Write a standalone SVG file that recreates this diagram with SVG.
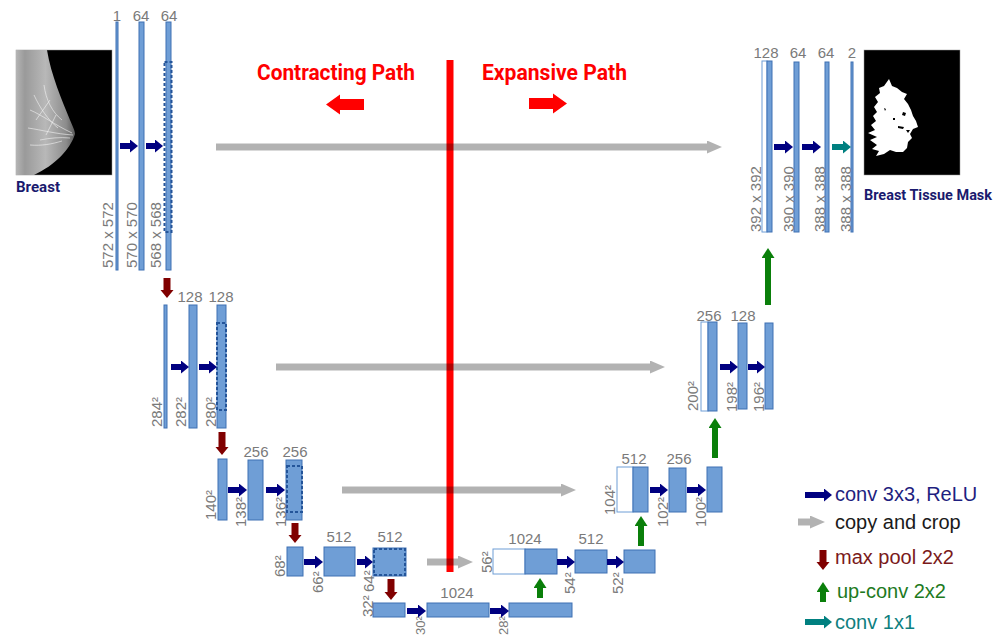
<svg xmlns="http://www.w3.org/2000/svg" width="1003" height="636" viewBox="0 0 1003 636">
<style>
.bar{fill:#6f9ed6;stroke:#3f70b3;stroke-width:1}
.wb{fill:#fff;stroke:#6f9ed6;stroke-width:1}
.dash{fill:none;stroke:#24559a;stroke-width:2;stroke-dasharray:3,2}
.lb{font-family:"Liberation Sans",Arial,sans-serif;font-size:15px;fill:#7a7a7a}
.sm{font-size:13px}
.tc{text-anchor:middle}
.conv{stroke:#000080;stroke-width:6}
.copy{stroke:#000;stroke-opacity:0.3;stroke-width:7}
.pool{stroke:#800000;stroke-width:7}
.up{stroke:#0a7f0a;stroke-width:6}
.c11{stroke:#008080;stroke-width:6}
.lg{font-family:"Liberation Sans",Arial,sans-serif;font-size:20px}
.hd{font-family:Roboto,"Liberation Sans",sans-serif;font-weight:bold;font-size:22px;fill:#f00}
.cap{font-family:Roboto,"Liberation Sans",sans-serif;font-weight:bold;font-size:15px;fill:#1a1a6e}
.fib{fill:none;stroke:#f4f4f4;stroke-width:0.8;opacity:0.75}
</style>
<defs>
<marker id="mConv" markerUnits="userSpaceOnUse" markerWidth="9" markerHeight="14" refX="0" refY="6.5" orient="auto"><path d="M0,0 L8,6.5 L0,13 z" fill="#000080"/></marker>
<marker id="mCopy" markerUnits="userSpaceOnUse" markerWidth="16" markerHeight="14" refX="0" refY="6.5" orient="auto"><path d="M0,0 L15,6.5 L0,13 z" fill="#000" fill-opacity="0.3"/></marker>
<marker id="mPool" markerUnits="userSpaceOnUse" markerWidth="9" markerHeight="14" refX="0" refY="6.5" orient="auto"><path d="M0,0 L8,6.5 L0,13 z" fill="#800000"/></marker>
<marker id="mUp" markerUnits="userSpaceOnUse" markerWidth="11" markerHeight="14" refX="0" refY="6.5" orient="auto"><path d="M0,0 L10,6.5 L0,13 z" fill="#0a7f0a"/></marker>
<marker id="mC11" markerUnits="userSpaceOnUse" markerWidth="9" markerHeight="14" refX="0" refY="6.5" orient="auto"><path d="M0,0 L8,6.5 L0,13 z" fill="#008080"/></marker>
<linearGradient id="gBreast" x1="0" y1="0" x2="1" y2="0">
<stop offset="0" stop-color="#b5b5b5"/><stop offset="0.15" stop-color="#9a9a9a"/><stop offset="0.5" stop-color="#b8b8b8"/><stop offset="0.85" stop-color="#8c8c8c"/><stop offset="1" stop-color="#5a5a5a"/>
</linearGradient>
</defs>

<!-- images -->
<g id="input-image">
<rect x="16" y="50" width="96" height="125" fill="#000" stroke="#999" stroke-width="0.5"/>
<path d="M16,50 L47,50 C51,75 62,100 70,120 C73,127 75,131 75,134 C70,150 55,165 34,175 L16,175 Z" fill="url(#gBreast)"/>
<path class="fib" d="M30,110 C42,115 55,125 72,133 M28,128 C42,130 56,134 73,135 M34,95 C40,108 48,120 58,128 M40,140 C50,138 60,137 70,138 M44,85 C46,100 52,112 62,120 M30,145 C42,146 52,144 62,141 M36,120 L50,100 M46,135 L56,115"/>
<text class="cap" x="16" y="192" textLength="44" lengthAdjust="spacingAndGlyphs">Breast</text>
</g>
<g id="output-mask">
<rect x="864" y="50" width="96" height="125" fill="#000" stroke="#999" stroke-width="0.5"/>
<path d="M889,79 L892,86 L897,88 L902,92 L907,94 L904,99 L908,104 L911,110 L913,116 L916,121 L918,127 L913,129 L910,134 L912,138 L908,142 L907,148 L903,152 L896,152 L890,150 L884,154 L876,156 L879,151 L872,149 L877,145 L870,140 L877,137 L868,133 L875,130 L871,125 L876,121 L873,116 L877,112 L874,107 L878,102 L875,97 L880,93 L879,88 L884,86 Z" fill="#fff"/>
<path d="M903,112 l3,1 l-1,3 l-3,-1 z M893,118 l2,0 l0,2 l-2,0 z M898,126 l6,1 l-1,2 l-5,-1 z M884,108 l2,1 l-1,2 z M906,130 l4,0 l-2,3 z" fill="#000"/>
<text class="cap" x="864" y="200" textLength="128" lengthAdjust="spacingAndGlyphs">Breast Tissue Mask</text>
</g>

<!-- divider and path titles -->
<g id="divider">
<rect x="446.5" y="60" width="7" height="512" fill="#f00"/>
<text class="hd" x="257" y="80" textLength="158" lengthAdjust="spacingAndGlyphs">Contracting Path</text>
<text class="hd" x="482" y="80" textLength="145" lengthAdjust="spacingAndGlyphs">Expansive Path</text>
<path d="M326,104.5 L340,94.5 L340,99 L364,99 L364,110 L340,110 L340,114.5 Z" fill="#f00"/>
<path d="M567,103.5 L553,93.5 L553,98 L529,98 L529,109 L553,109 L553,113.5 Z" fill="#f00"/>
</g>

<!-- level 1 -->
<g id="enc1">
<rect class="bar" x="116" y="22" width="2" height="248"/>
<rect class="bar" x="139" y="22" width="5" height="248"/>
<rect class="bar" x="166" y="22" width="5" height="248"/>
<rect class="dash" x="164.5" y="62" width="7" height="170"/>
<text class="lb tc" x="117" y="21">1</text>
<text class="lb tc" x="141" y="21">64</text>
<text class="lb tc" x="169" y="21">64</text>
<text class="lb" transform="translate(113,268) rotate(-90)">572 x 572</text>
<text class="lb" transform="translate(137,268) rotate(-90)">570 x 570</text>
<text class="lb" transform="translate(161,268) rotate(-90)">568 x 568</text>
</g>
<g id="enc2">
<rect class="bar" x="164" y="305" width="3" height="123"/>
<rect class="bar" x="189" y="305" width="8" height="123"/>
<rect class="bar" x="217" y="305" width="9" height="123"/>
<rect class="dash" x="217" y="323" width="9" height="87"/>
<text class="lb tc" x="190" y="302">128</text>
<text class="lb tc" x="221" y="302">128</text>
<text class="lb" transform="translate(162,427) rotate(-90)">284²</text>
<text class="lb" transform="translate(186,427) rotate(-90)">282²</text>
<text class="lb" transform="translate(216,427) rotate(-90)">280²</text>
</g>
<g id="enc3">
<rect class="bar" x="218" y="459" width="9" height="61"/>
<rect class="bar" x="248" y="460" width="15" height="60"/>
<rect class="bar" x="286" y="460" width="16" height="60"/>
<rect class="dash" x="287" y="466" width="15" height="46"/>
<text class="lb tc" x="256" y="457">256</text>
<text class="lb tc" x="295" y="457">256</text>
<text class="lb" transform="translate(216,520) rotate(-90)">140²</text>
<text class="lb" transform="translate(246,527) rotate(-90)">138²</text>
<text class="lb" transform="translate(286,527) rotate(-90)">136²</text>
</g>
<g id="enc4">
<rect class="bar" x="287" y="547" width="16" height="29"/>
<rect class="bar" x="324" y="547" width="31" height="29"/>
<rect class="bar" x="373" y="548" width="33" height="28"/>
<rect class="dash" x="374" y="549" width="31" height="26"/>
<text class="lb tc" x="339" y="542">512</text>
<text class="lb tc" x="390" y="542">512</text>
<text class="lb" transform="translate(285,577) rotate(-90)">68²</text>
<text class="lb" transform="translate(323,593) rotate(-90)">66²</text>
<text class="lb" transform="translate(374,592) rotate(-90)">64²</text>
</g>
<g id="bottleneck">
<rect class="bar" x="373" y="603" width="32" height="14"/>
<rect class="bar" x="427" y="603" width="62" height="14"/>
<rect class="bar" x="509" y="603" width="63" height="14"/>
<text class="lb tc" x="457" y="598">1024</text>
<text class="lb" transform="translate(373,617) rotate(-90)">32²</text>
<text class="lb sm" transform="translate(425,635) rotate(-90)">30²</text>
<text class="lb sm" transform="translate(508,635) rotate(-90)">28²</text>
</g>
<g id="dec4">
<rect class="wb" x="493" y="549" width="32" height="25"/>
<rect class="bar" x="525" y="549" width="32" height="25"/>
<rect class="bar" x="575" y="550" width="32" height="23"/>
<rect class="bar" x="624" y="550" width="31" height="23"/>
<text class="lb tc" x="525" y="544">1024</text>
<text class="lb tc" x="591" y="544">512</text>
<text class="lb" transform="translate(492,573) rotate(-90)">56²</text>
<text class="lb" transform="translate(575,594) rotate(-90)">54²</text>
<text class="lb" transform="translate(623,594) rotate(-90)">52²</text>
</g>
<g id="dec3">
<rect class="wb" x="617" y="467" width="16" height="45"/>
<rect class="bar" x="633" y="467" width="15" height="45"/>
<rect class="bar" x="669" y="468" width="17" height="44"/>
<rect class="bar" x="707" y="467" width="15" height="45"/>
<text class="lb tc" x="634" y="464">512</text>
<text class="lb tc" x="679" y="464">256</text>
<text class="lb" transform="translate(615,515) rotate(-90)">104²</text>
<text class="lb" transform="translate(668,527) rotate(-90)">102²</text>
<text class="lb" transform="translate(706,527) rotate(-90)">100²</text>
</g>
<g id="dec2">
<rect class="wb" x="701" y="322" width="7" height="89"/>
<rect class="bar" x="708" y="322" width="9" height="89"/>
<rect class="bar" x="738" y="323" width="9" height="86"/>
<rect class="bar" x="765" y="323" width="8" height="86"/>
<text class="lb tc" x="709" y="321">256</text>
<text class="lb tc" x="743" y="321">128</text>
<text class="lb" transform="translate(698,411) rotate(-90)">200²</text>
<text class="lb" transform="translate(737,412) rotate(-90)">198²</text>
<text class="lb" transform="translate(764,412) rotate(-90)">196²</text>
</g>
<g id="dec1">
<rect class="wb" x="762" y="61" width="5" height="171"/>
<rect class="bar" x="767" y="61" width="5" height="171"/>
<rect class="bar" x="794" y="62" width="5" height="170"/>
<rect class="bar" x="825" y="62" width="4" height="170"/>
<rect class="bar" x="851" y="62" width="2" height="170"/>
<text class="lb tc" x="766" y="58">128</text>
<text class="lb tc" x="798" y="58">64</text>
<text class="lb tc" x="826" y="58">64</text>
<text class="lb tc" x="852" y="58">2</text>
<text class="lb" transform="translate(761,232) rotate(-90)">392 x 392</text>
<text class="lb" transform="translate(794,232) rotate(-90)">390 x 390</text>
<text class="lb" transform="translate(825,232) rotate(-90)">388 x 388</text>
<text class="lb" transform="translate(851,232) rotate(-90)">388 x 388</text>
</g>

<!-- connectors -->
<g id="connectors">
<line class="conv" x1="120" y1="146" x2="130" y2="146" marker-end="url(#mConv)"/>
<line class="conv" x1="146" y1="146" x2="155" y2="146" marker-end="url(#mConv)"/>
<line class="conv" x1="171" y1="367" x2="181" y2="367" marker-end="url(#mConv)"/>
<line class="conv" x1="199" y1="367" x2="209" y2="367" marker-end="url(#mConv)"/>
<line class="conv" x1="228" y1="490" x2="239" y2="490" marker-end="url(#mConv)"/>
<line class="conv" x1="266" y1="490" x2="277" y2="490" marker-end="url(#mConv)"/>
<line class="conv" x1="304" y1="562" x2="315" y2="562" marker-end="url(#mConv)"/>
<line class="conv" x1="357" y1="562" x2="365" y2="562" marker-end="url(#mConv)"/>
<line class="conv" x1="407" y1="611" x2="418" y2="611" marker-end="url(#mConv)"/>
<line class="conv" x1="490" y1="611" x2="501" y2="611" marker-end="url(#mConv)"/>
<line class="conv" x1="557" y1="562" x2="567" y2="562" marker-end="url(#mConv)"/>
<line class="conv" x1="607" y1="562" x2="616" y2="562" marker-end="url(#mConv)"/>
<line class="conv" x1="650" y1="490" x2="660" y2="490" marker-end="url(#mConv)"/>
<line class="conv" x1="687" y1="490" x2="698" y2="490" marker-end="url(#mConv)"/>
<line class="conv" x1="720" y1="367" x2="730" y2="367" marker-end="url(#mConv)"/>
<line class="conv" x1="748" y1="367" x2="757" y2="367" marker-end="url(#mConv)"/>
<line class="conv" x1="774" y1="147" x2="785" y2="147" marker-end="url(#mConv)"/>
<line class="conv" x1="802" y1="147" x2="813" y2="147" marker-end="url(#mConv)"/>
<line class="c11" x1="832" y1="147" x2="843" y2="147" marker-end="url(#mC11)"/>

<line class="copy" x1="216" y1="147" x2="707" y2="147" marker-end="url(#mCopy)"/>
<line class="copy" x1="276" y1="367" x2="650" y2="367" marker-end="url(#mCopy)"/>
<line class="copy" x1="342" y1="490" x2="561" y2="490" marker-end="url(#mCopy)"/>
<line class="copy" x1="427" y1="562" x2="458" y2="562" marker-end="url(#mCopy)"/>

<line class="pool" x1="167" y1="278" x2="167" y2="290" marker-end="url(#mPool)"/>
<line class="pool" x1="222" y1="432" x2="222" y2="447" marker-end="url(#mPool)"/>
<line class="pool" x1="295" y1="523" x2="295" y2="535" marker-end="url(#mPool)"/>
<line class="pool" x1="391" y1="579" x2="391" y2="592" marker-end="url(#mPool)"/>

<line class="up" x1="540" y1="598" x2="540" y2="588" marker-end="url(#mUp)"/>
<line class="up" x1="641" y1="546" x2="641" y2="526" marker-end="url(#mUp)"/>
<line class="up" x1="715" y1="458" x2="715" y2="428" marker-end="url(#mUp)"/>
<line class="up" x1="768" y1="305" x2="768" y2="258" marker-end="url(#mUp)"/>
</g>

<!-- legend -->
<g id="legend">
<line class="conv" x1="805" y1="495" x2="824" y2="495" marker-end="url(#mConv)"/>
<text class="lg" x="835" y="501" fill="#1f1f80">conv 3x3, ReLU</text>
<line class="copy" x1="798" y1="522" x2="810" y2="522" marker-end="url(#mCopy)"/>
<text class="lg" x="835" y="529" fill="#1a1a1a">copy and crop</text>
<line class="pool" x1="823" y1="550" x2="823" y2="562" marker-end="url(#mPool)"/>
<text class="lg" x="835" y="564" fill="#7a1a1a">max pool 2x2</text>
<line class="up" x1="823" y1="602" x2="823" y2="592" marker-end="url(#mUp)"/>
<text class="lg" x="837" y="598" fill="#1e7a1e">up-conv 2x2</text>
<line class="c11" x1="805" y1="622" x2="824" y2="622" marker-end="url(#mC11)"/>
<text class="lg" x="835" y="629" fill="#0f7f7f">conv 1x1</text>
</g>
</svg>
